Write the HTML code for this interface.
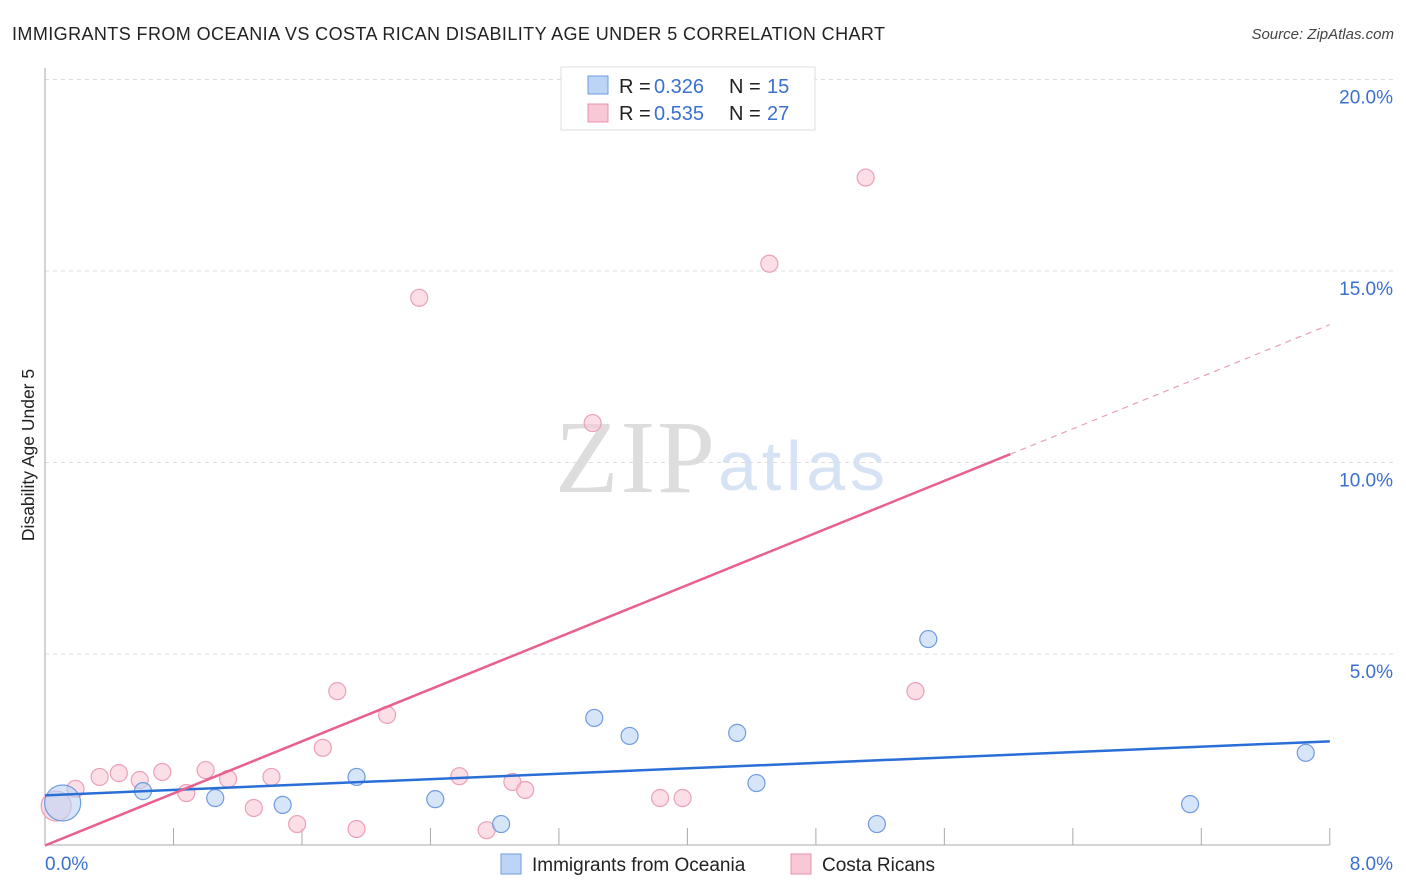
<!DOCTYPE html>
<html><head><meta charset="utf-8"><style>
body{margin:0;background:#fff;font-family:"Liberation Sans",sans-serif;}
svg{display:block}
</style></head><body>
<svg id="chart" width="1406" height="892">
<text x="12" y="40" font-size="18" fill="#222" textLength="873">IMMIGRANTS FROM OCEANIA VS COSTA RICAN DISABILITY AGE UNDER 5 CORRELATION CHART</text>
<text x="1394" y="39" font-size="15" fill="#444" font-style="italic" text-anchor="end">Source: ZipAtlas.com</text>
<text x="34" y="455" font-size="17.5" fill="#222" text-anchor="middle" transform="rotate(-90 34 455)">Disability Age Under 5</text>
<text x="555" y="492" font-size="104" fill="#ddd" font-family="Liberation Serif,serif" textLength="160">ZIP</text>
<text x="718" y="490" font-size="70" fill="#d6e3f5" textLength="167">atlas</text>
<g id="grid"></g>
<line x1="45" y1="68" x2="45" y2="845" stroke="#aaa"/>
<line x1="45" y1="845" x2="1330" y2="845" stroke="#aaa"/>
<g id="xticks"></g>
<g id="pts"></g>
<g id="lines"></g>
<text x="45" y="870" font-size="19" fill="#3a70d0">0.0%</text>
<text x="1393" y="870" font-size="19" fill="#3a70d0" text-anchor="end">8.0%</text>
<g>
<rect x="561" y="67" width="254" height="63" fill="#fff" stroke="#ddd"/>
<rect x="588" y="76" width="20" height="18" fill="#bcd4f5" stroke="#6f9be0"/>
<rect x="588" y="104" width="20" height="18" fill="#f9c8d6" stroke="#e890ab"/>
<text x="619" y="93" font-size="20" fill="#222">R =</text>
<text x="654" y="93" font-size="20" fill="#3a70d0">0.326</text>
<text x="729" y="93" font-size="20" fill="#222">N =</text>
<text x="767" y="93" font-size="20" fill="#3a70d0">15</text>
<text x="619" y="120" font-size="20" fill="#222">R =</text>
<text x="654" y="120" font-size="20" fill="#3a70d0">0.535</text>
<text x="729" y="120" font-size="20" fill="#222">N =</text>
<text x="767" y="120" font-size="20" fill="#3a70d0">27</text>
</g>
<g>
<rect x="501" y="854" width="20" height="20" fill="#bcd4f5" stroke="#6f9be0"/>
<text x="532" y="871" font-size="19" fill="#222">Immigrants from Oceania</text>
<rect x="791" y="854" width="20" height="20" fill="#f9c8d6" stroke="#e890ab"/>
<text x="822" y="871" font-size="19" fill="#222">Costa Ricans</text>
</g>
</svg>
<script>
const yTicks=[5,10,15,20];
const blueX=[0.11,0.61,1.06,1.48,1.94,2.43,2.84,3.42,3.64,4.31,4.43,5.18,5.50,7.13,7.85];
const blueY=[1.11,1.42,1.24,1.06,1.79,1.21,0.56,3.33,2.86,2.94,1.63,0.56,5.39,1.08,2.42];
const pinkX=[0.07,0.19,0.34,0.46,0.59,0.73,0.88,1.00,1.14,1.30,1.41,1.57,1.73,1.82,1.94,2.13,2.33,2.58,2.75,2.91,2.99,3.41,3.83,3.97,4.51,5.11,5.42];
const pinkY=[1.03,1.48,1.79,1.89,1.71,1.92,1.37,1.97,1.74,0.98,1.79,0.56,2.55,4.03,0.43,3.41,14.30,1.81,0.40,1.66,1.45,11.03,1.24,1.24,15.19,17.44,4.03];
const blueTrend=[1.31,2.72];
const pinkTrend=[0.0,13.6];
const NS="http://www.w3.org/2000/svg";
const X=v=>45+v*160.6, Y=v=>845.5-v*38.3;
function mk(t,a,p){const e=document.createElementNS(NS,t);for(const k in a)e.setAttribute(k,a[k]);document.getElementById(p).appendChild(e);return e;}
yTicks.forEach(t=>{
 const l=mk('line',{x1:45,x2:1395,y1:Y(t),y2:Y(t),stroke:'#ddd','stroke-dasharray':'4 4'},'grid');
 
 
 const tx=mk('text',{x:1393,y:Y(t)+24,'font-size':19,fill:'#3a70d0','text-anchor':'end'},'grid');
 tx.textContent=t.toFixed(1)+'%';
 
 
});
for(let i=1;i<=10;i++){
 const l=mk('line',{x1:X(i*0.8),x2:X(i*0.8),y1:828,y2:845,stroke:'#aaa'},'xticks');
 
 
}
pinkX.forEach((x,i)=>{
 const c=mk('circle',{cx:X(x),cy:Y(pinkY[i]),r:i==0?15:8.5,fill:'#f9c8d6','fill-opacity':0.6,stroke:'#eba0b8','stroke-width':1.2},'pts');
 
 
});
blueX.forEach((x,i)=>{
 const c=mk('circle',{cx:X(x),cy:Y(blueY[i]),r:i==0?18:8.5,fill:'#bcd4f5','fill-opacity':0.6,stroke:'#6f9be0','stroke-width':1.2},'pts');
 
 
});
const bl=mk('line',{x1:X(0),y1:Y(blueTrend[0]),x2:X(8),y2:Y(blueTrend[1]),stroke:'#2a6fd6','stroke-width':2.5},'lines');


const split=6.01, ps=pinkTrend[0]+(pinkTrend[1]-pinkTrend[0])*split/8;
const pl=mk('line',{x1:X(0),y1:Y(pinkTrend[0]),x2:X(split),y2:Y(ps),stroke:'#e8608c','stroke-width':2.5},'lines');


const pd=mk('line',{x1:X(split),y1:Y(ps),x2:X(8),y2:Y(pinkTrend[1]),stroke:'#e8a0b8','stroke-width':1.2,'stroke-dasharray':'6 5'},'lines');


</script>
</body></html>
